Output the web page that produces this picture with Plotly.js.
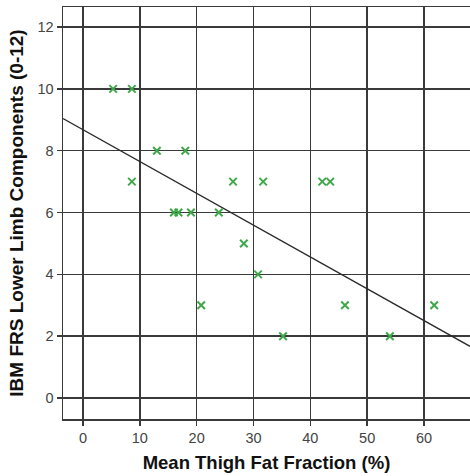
<!DOCTYPE html>
<html>
<head>
<meta charset="utf-8">
<script src="https://cdn.plot.ly/plotly-3.0.1.min.js"></script>
<style>html,body{margin:0;padding:0;background:#fff;}#chart{width:470px;height:476px;}</style>
</head>
<body>
<div id="chart"></div>
<script>
// Mean thigh fat fraction (%) per patient
const fatFraction = [5.3, 8.6, 8.6, 13.0, 18.0, 16.0, 16.8, 19.0, 23.9, 26.4, 31.7, 42.1, 43.5, 28.3, 30.8, 20.8, 46.1, 35.2, 54.0, 61.8];
// IBM FRS lower limb components score (0-12)
const frsLowerLimb = [10, 10, 7, 8, 8, 6, 6, 6, 6, 7, 7, 7, 7, 5, 4, 3, 3, 2, 2, 3];
const xTicks = [0, 10, 20, 30, 40, 50, 60];
const yTicks = [0, 2, 4, 6, 8, 10, 12];
const xRange = [-3.52, 68.1];
const yRange = [-0.68, 12.65];

// ordinary least squares fit
const n = fatFraction.length;
const mx = fatFraction.reduce((a, b) => a + b, 0) / n;
const my = frsLowerLimb.reduce((a, b) => a + b, 0) / n;
let sxy = 0, sxx = 0;
for (let i = 0; i < n; i++) {
  sxy += (fatFraction[i] - mx) * (frsLowerLimb[i] - my);
  sxx += (fatFraction[i] - mx) ** 2;
}
const slope = sxy / sxx;
const intercept = my - slope * mx;
const fitX = [xRange[0], xRange[1]];
const fitY = fitX.map(x => intercept + slope * x);

const gridColor = '#3a3a3a';
const traces = [
  {
    x: fitX, y: fitY, mode: 'lines', type: 'scatter',
    line: {color: '#2a2a2a', width: 1.3}, hoverinfo: 'skip', cliponaxis: true
  },
  {
    x: fatFraction, y: frsLowerLimb, mode: 'markers', type: 'scatter',
    marker: {symbol: 'x-thin', size: 7.5, line: {color: '#3fa84a', width: 2}, color: '#3fa84a'}
  }
];
const layout = {
  width: 470, height: 476,
  margin: {l: 63, r: 0, t: 7, b: 57},
  paper_bgcolor: '#fff', plot_bgcolor: '#fff',
  showlegend: false,
  font: {family: 'Liberation Sans, Arial, sans-serif', color: '#333'},
  xaxis: {
    range: xRange, tickvals: xTicks, ticktext: xTicks.map(String),
    showgrid: true, gridcolor: gridColor, gridwidth: 1.5,
    zeroline: false, showline: true, linecolor: gridColor, linewidth: 1.5, mirror: true,
    ticks: 'outside', ticklen: 5, tickcolor: gridColor, tickwidth: 1.5,
    tickfont: {size: 14.5, color: '#444'},
    title: {text: 'Mean Thigh Fat Fraction (%)', font: {size: 18.5, color: '#111', weight: 'bold'}, standoff: 11}
  },
  yaxis: {
    range: yRange, tickvals: yTicks, ticktext: yTicks.map(String),
    showgrid: true, gridcolor: gridColor, gridwidth: 1.5,
    zeroline: false, showline: true, linecolor: gridColor, linewidth: 1.5, mirror: true,
    ticks: 'outside', ticklen: 5, tickcolor: gridColor, tickwidth: 1.5,
    tickfont: {size: 14.5, color: '#444'},
    title: {text: 'IBM FRS Lower Limb Components (0-12)', font: {size: 19, color: '#111', weight: 'bold'}, standoff: 9}
  }
};
Plotly.newPlot('chart', traces, layout, {displayModeBar: false, staticPlot: true});
</script>
</body>
</html>
